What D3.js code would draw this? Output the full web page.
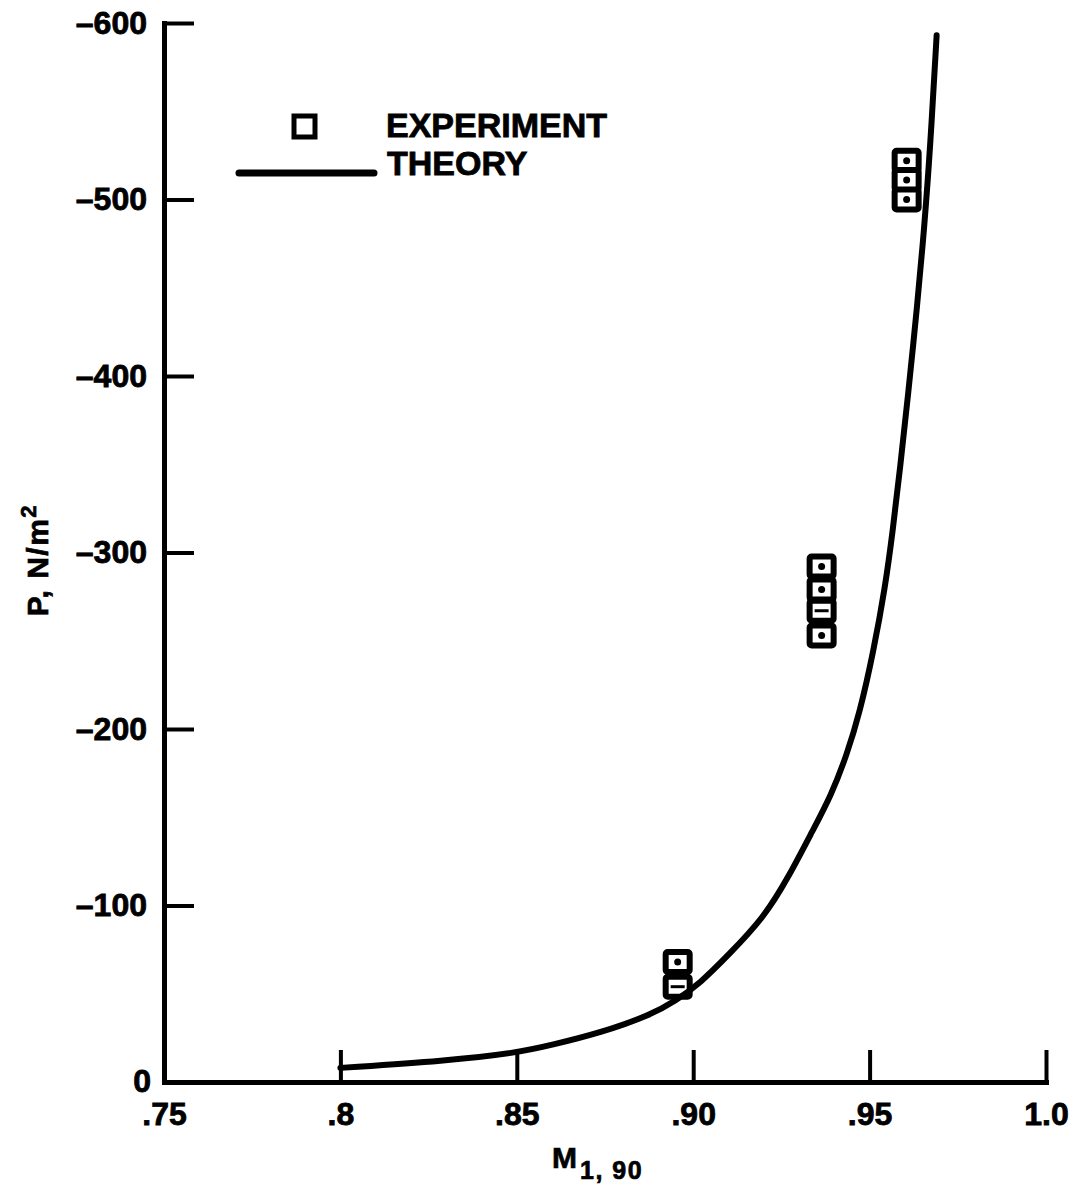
<!DOCTYPE html>
<html>
<head>
<meta charset="utf-8">
<script src="https://cdn.jsdelivr.net/npm/d3@7"></script>
<style>
  body { margin: 0; background: #fff; }
  svg { display: block; }
  text { font-family: "Liberation Sans", Arial, Helvetica, sans-serif; font-weight: bold; fill: #000; }
</style>
</head>
<body>
<svg width="1076" height="1189"></svg>
<script>
// tick values and labels
var xTicks = [0.75, 0.8, 0.85, 0.90, 0.95, 1.0];
var xTickLabels = [".75", ".8", ".85", ".90", ".95", "1.0"];
var yTicks = [0, -100, -200, -300, -400, -500, -600];
var yTickLabels = ["0", "\u2013100", "\u2013200", "\u2013300", "\u2013400", "\u2013500", "\u2013600"];

// theory curve
var theoryM = [0.800, 0.830, 0.850, 0.860, 0.874, 0.888, 0.895, 0.902, 0.910, 0.920, 0.927, 0.934, 0.939,
               0.9435, 0.9473, 0.951, 0.9544, 0.9566, 0.9586, 0.9609, 0.9635, 0.9655, 0.9672, 0.9690];
var theoryP = [-8, -12, -16.5, -21, -28, -38, -46, -56, -72, -93, -116, -143, -162,
               -185, -210, -243, -280, -313, -347, -389, -440, -484, -530, -593];

// experiment points, mark = inner symbol
var expM = [0.8956, 0.8956, 0.9364, 0.9364, 0.9364, 0.9364, 0.9605, 0.9605, 0.9605];
var expP = [-68, -54, -292, -279, -267, -253, -522, -511, -500];
var expMark = ["dot", "dash", "dot", "dot", "dash", "dot", "dot", "dot", "dot"];

var svg = d3.select("svg");

var x = d3.scaleLinear().domain([0.75, 1.0]).range([164, 1046]);
var y = d3.scaleLinear().domain([0, -600]).range([1082, 23]);

//////////// AXES ////////////

var xAxis = d3.axisBottom(x)
    .tickValues(xTicks)
    .tickFormat(function (d, i) { return xTickLabels[i]; })
    .tickSizeInner(-32)
    .tickSizeOuter(0)
    .tickPadding(20);

var yAxis = d3.axisLeft(y)
    .tickValues(yTicks)
    .tickFormat(function (d, i) { return yTickLabels[i]; })
    .tickSizeInner(-30)
    .tickSizeOuter(0)
    .tickPadding(17);

var gx = svg.append("g")
    .attr("transform", "translate(0," + y(0) + ")")
    .call(xAxis);

var gy = svg.append("g")
    .attr("transform", "translate(" + x(0.75) + ",0)")
    .call(yAxis);

[gx, gy].forEach(function (g) {
    g.select(".domain").attr("stroke", "#000").attr("stroke-width", 5).attr("stroke-linecap", "square");
    g.selectAll(".tick line").attr("stroke", "#000").attr("stroke-width", 4);
    g.selectAll(".tick text")
        .attr("font-size", 32)
        .attr("stroke", "#000")
        .attr("stroke-width", 0.8)
        .style("font-family", "'Liberation Sans', Arial, sans-serif");
});
// no tick marks at the corner
gx.selectAll(".tick").filter(function (d) { return d === 0.75; }).select("line").remove();
gy.selectAll(".tick").filter(function (d) { return d === 0; }).select("line").remove();
gy.selectAll(".tick").filter(function (d) { return d === 0; }).select("text").attr("x", -13).attr("dy", "0.3em");

//////////// THEORY CURVE ////////////

var theory = theoryM.map(function (m, i) { return [m, theoryP[i]]; });

// basis spline smooths out the small reading errors
var line = d3.line()
    .x(function (d) { return x(d[0]); })
    .y(function (d) { return y(d[1]); })
    .curve(d3.curveBasis);

//////////// EXPERIMENT ////////////

var exp = expM.map(function (m, i) { return { m: m, p: expP[i], mark: expMark[i] }; });

var pts = svg.append("g").attr("class", "experiment")
    .selectAll("g")
    .data(exp)
    .enter().append("g")
    .attr("transform", function (d) { return "translate(" + x(d.m) + "," + y(d.p) + ")"; });

pts.append("rect")
    .attr("x", -12).attr("y", -10)
    .attr("width", 24).attr("height", 20)
    .attr("rx", 2)
    .attr("fill", "#fff")
    .attr("stroke", "#000")
    .attr("stroke-width", 6);

pts.filter(function (d) { return d.mark === "dot"; })
    .append("circle")
    .attr("r", 3.5)
    .attr("fill", "#000");

pts.filter(function (d) { return d.mark === "dash"; })
    .append("line")
    .attr("x1", -7).attr("x2", 7)
    .attr("stroke", "#000")
    .attr("stroke-width", 3);

svg.append("path")
    .datum(theory)
    .attr("d", line)
    .attr("fill", "none")
    .attr("stroke", "#000")
    .attr("stroke-width", 6)
    .attr("stroke-linecap", "round")
    .attr("stroke-linejoin", "round");

//////////// LEGEND ////////////

var legend = svg.append("g");
legend.append("rect")
    .attr("x", 294).attr("y", 116)
    .attr("width", 21).attr("height", 21)
    .attr("fill", "#fff")
    .attr("stroke", "#000")
    .attr("stroke-width", 5);
legend.append("text")
    .attr("x", 386).attr("y", 137)
    .attr("font-size", 34)
    .attr("stroke", "#000").attr("stroke-width", 0.8)
    .text("EXPERIMENT");
legend.append("line")
    .attr("x1", 239).attr("x2", 374)
    .attr("y1", 173).attr("y2", 173)
    .attr("stroke", "#000")
    .attr("stroke-width", 7)
    .attr("stroke-linecap", "round");
legend.append("text")
    .attr("x", 387).attr("y", 175)
    .attr("font-size", 34)
    .attr("stroke", "#000").attr("stroke-width", 0.8)
    .text("THEORY");

//////////// AXIS TITLES ////////////

var yt = svg.append("text")
    .attr("transform", "translate(48,560) rotate(-90)")
    .attr("text-anchor", "middle")
    .attr("font-size", 30)
    .attr("letter-spacing", 1.5)
    .attr("stroke", "#000").attr("stroke-width", 0.7);
yt.append("tspan").text("P, N/m");
yt.append("tspan").attr("dy", -12).attr("font-size", 22).text("2");

var xt = svg.append("text")
    .attr("x", 552).attr("y", 1168)
    .attr("font-size", 30)
    .attr("stroke", "#000").attr("stroke-width", 0.7);
xt.append("tspan").text("M");
xt.append("tspan").attr("dy", 11).attr("dx", 3).attr("font-size", 25).attr("letter-spacing", 1.5).text("1, 90");
</script>
</body>
</html>
